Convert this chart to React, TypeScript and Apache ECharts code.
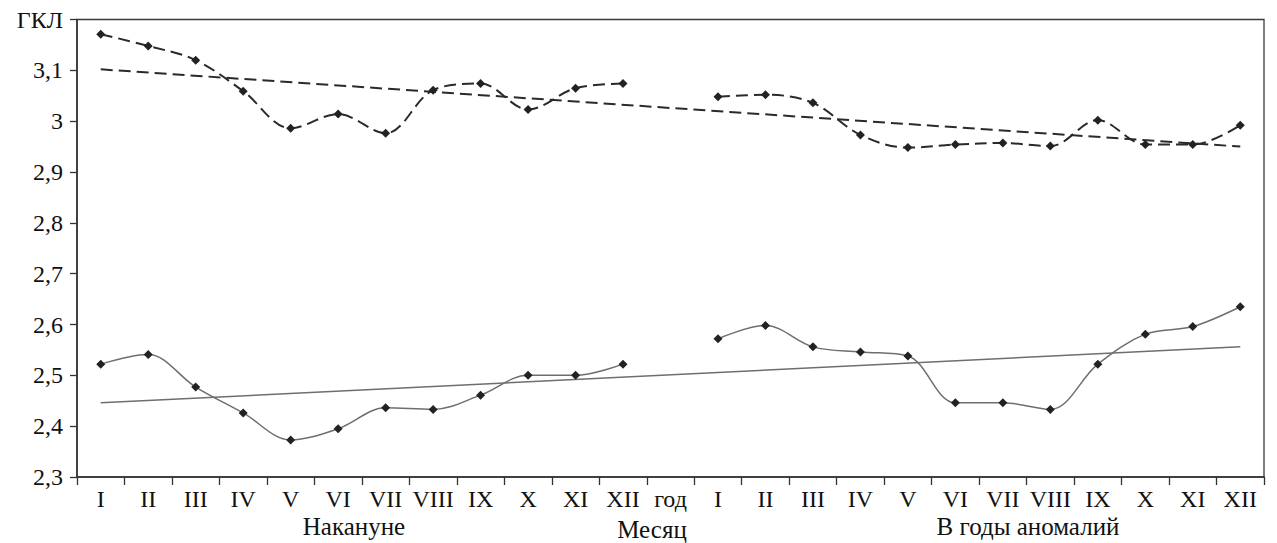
import React, { useEffect, useRef } from "react";
import * as echarts from "echarts";

const categories = [
  "I", "II", "III", "IV", "V", "VI", "VII", "VIII", "IX", "X", "XI", "XII",
  "год",
  "I", "II", "III", "IV", "V", "VI", "VII", "VIII", "IX", "X", "XI", "XII",
];

// upper dashed series (null at "год")
const upperValues = [
  3.171, 3.148, 3.12, 3.059, 2.986, 3.014, 2.976, 3.061, 3.074, 3.023, 3.065, 3.074,
  null,
  3.048, 3.052, 3.036, 2.973, 2.948, 2.954, 2.957, 2.951, 3.002, 2.954, 2.954, 2.992,
];

// lower solid series
const lowerValues = [
  2.522, 2.541, 2.477, 2.426, 2.373, 2.395, 2.436, 2.433, 2.461, 2.5, 2.5, 2.522,
  null,
  2.572, 2.598, 2.556, 2.546, 2.538, 2.446, 2.446, 2.433, 2.522, 2.581, 2.596, 2.635,
];

// linear trends: start / end category index and values
const trendIndex = [0, 24];
const upperTrend = [3.102, 2.95];
const lowerTrend = [2.446, 2.556];

const yTicks = { min: 2.3, max: 3.2, step: 0.1, topLabel: "ГКЛ" };
const groupLabels = ["Накануне", "Месяц", "В годы аномалий"];

const FONT = "'Liberation Serif', 'Times New Roman', serif";
const DASH = [12, 6];

export default function App() {
  const ref = useRef<HTMLDivElement>(null);
  useEffect(() => {
    if (!ref.current) return;
    const chart = echarts.init(ref.current, null, { renderer: "svg" });
    const textStyle = (text: string) => ({
      text,
      fontFamily: FONT,
      fontSize: 25,
      fill: "#111",
      align: "center",
      verticalAlign: "middle",
    });
    const option = {
      animation: false,
      backgroundColor: "#ffffff",
      grid: {
        left: 77,
        right: 13,
        top: 19.5,
        bottom: 66,
        show: true,
        borderColor: "#3a3a3a",
        borderWidth: 1.3,
      },
      xAxis: {
        type: "category",
        data: categories,
        boundaryGap: true,
        axisLine: { lineStyle: { color: "#333", width: 1.6 } },
        axisTick: { show: true, length: 8, interval: 0, lineStyle: { color: "#333", width: 1.3 } },
        axisLabel: {
          interval: 0,
          margin: 10,
          fontFamily: FONT,
          fontSize: 24,
          color: "#111",
        },
        splitLine: { show: false },
      },
      yAxis: {
        type: "value",
        min: yTicks.min,
        max: yTicks.max,
        interval: yTicks.step,
        axisLine: { show: true, lineStyle: { color: "#333", width: 1.6 } },
        axisTick: { show: true, length: 7, lineStyle: { color: "#333", width: 1.3 } },
        splitLine: { show: false },
        axisLabel: {
          margin: 14,
          fontFamily: FONT,
          fontSize: 24,
          color: "#111",
          formatter: (v: number) => {
            if (v >= yTicks.max - 1e-6) return yTicks.topLabel;
            const r = Math.round(v * 10) / 10;
            return String(r).replace(".", ",");
          },
        },
      },
      series: [
        {
          type: "line",
          data: upperValues,
          smooth: 0.35,
          connectNulls: false,
          symbol: "diamond",
          symbolSize: 9,
          itemStyle: { color: "#222" },
          lineStyle: { color: "#2a2a2a", width: 2, type: DASH },
          z: 3,
        },
        {
          type: "line",
          data: lowerValues,
          smooth: 0.35,
          connectNulls: false,
          symbol: "diamond",
          symbolSize: 9,
          itemStyle: { color: "#222" },
          lineStyle: { color: "#6e6e6e", width: 1.5 },
          z: 3,
        },
        {
          type: "line",
          data: trendIndex.map((i, k) => [i, upperTrend[k]]),
          symbol: "none",
          lineStyle: { color: "#2a2a2a", width: 2, type: DASH },
          z: 2,
        },
        {
          type: "line",
          data: trendIndex.map((i, k) => [i, lowerTrend[k]]),
          symbol: "none",
          lineStyle: { color: "#6e6e6e", width: 1.5 },
          z: 2,
        },
      ],
      graphic: [
        { type: "text", x: 354, y: 526, style: textStyle(groupLabels[0]) },
        { type: "text", x: 652, y: 529, style: textStyle(groupLabels[1]) },
        { type: "text", x: 1028, y: 526, style: textStyle(groupLabels[2]) },
      ],
    };
    chart.setOption(option as any);
    return () => chart.dispose();
  }, []);
  return (
    <div
      ref={ref}
      style={{ position: "fixed", left: 0, top: 0, width: 1277, height: 543, background: "#fff" }}
    />
  );
}
